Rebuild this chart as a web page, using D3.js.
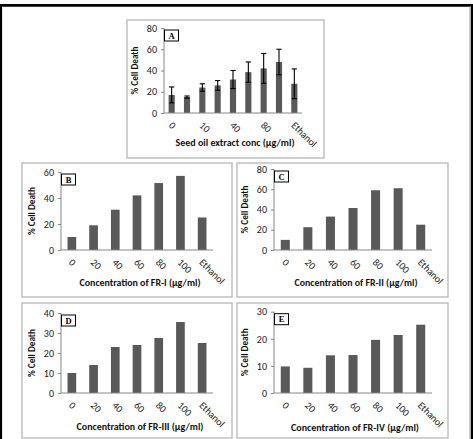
<!DOCTYPE html>
<html><head><meta charset="utf-8">
<script src="https://cdn.jsdelivr.net/npm/d3@7"></script>
<style>body{margin:0;background:#fff}svg{display:block}</style>
</head><body>
<svg id="c" width="473" height="439"></svg>
<script>
// ---- data ----
const catsA = ["0","5","10","20","40","60","80","100","Ethanol"];
const shownA = ["0","10","40","80","Ethanol"];
const valsA = [17, 15, 24, 26, 31.5, 38.5, 42, 48, 27.5];
const errA  = [7.5, 1, 3.5, 4.5, 8.5, 9.5, 14, 12, 14];
const catsFR = ["0","20","40","60","80","100","Ethanol"];
const valsB = [10, 19, 31, 42, 51.5, 57, 25];
const valsC = [10, 22.5, 33, 41.5, 59, 61, 25];
const valsD = [10, 14, 23, 24, 27.5, 35.5, 25];
const valsE = [9.8, 9.3, 13.9, 14, 19.6, 21.4, 25.2];
const ticksA = [0,20,40,60,80];
const ticksB = [0,20,40,60];
const ticksC = [0,20,40,60,80];
const ticksD = [0,10,20,30,40];
const ticksE = [0,10,20,30];
const titlesX = ["Seed oil extract conc (µg/ml)","Concentration of FR-I (µg/ml)","Concentration of FR-II (µg/ml)","Concentration of FR-III (µg/ml)","Concentration of FR-IV (µg/ml)"];
const yTitle = "% Cell Death";
const letters = ["A","B","C","D","E"];

// ---- layout ----
const panels = [
  {box:[127,20,324,158], x:[164,302], y:[113,28], cats:catsA, shown:shownA, vals:valsA, err:errA, ticks:ticksA, max:80, tx:235, ty:145.5, tl:119, yx:138},
  {box:[22,163,232,297], x:[61,213], y:[250,172], cats:catsFR, shown:catsFR, vals:valsB, ticks:ticksB, max:60, tx:140, ty:285.5, tl:121, yx:35},
  {box:[237,163,448,297], x:[274,432], y:[250,169], cats:catsFR, shown:catsFR, vals:valsC, ticks:ticksC, max:80, tx:356, ty:286, tl:123, yx:248},
  {box:[22,303,232,438], x:[61,213], y:[393,313], cats:catsFR, shown:catsFR, vals:valsD, ticks:ticksD, max:40, tx:140, ty:430, tl:127, yx:35},
  {box:[237,303,448,438], x:[274,432], y:[393,311.7], cats:catsFR, shown:catsFR, vals:valsE, ticks:ticksE, max:30, tx:355, ty:431, tl:128, yx:248}
];

const svg = d3.select("#c");
const FONT = "Carlito, Lato, 'Open Sans', sans-serif";

// outer frame
svg.append("line").attr("x1",0).attr("x2",473).attr("y1",5.3).attr("y2",5.3).attr("stroke","#000").attr("stroke-width",2.8);
svg.append("line").attr("x1",1).attr("x2",1).attr("y1",4).attr("y2",439).attr("stroke","#000").attr("stroke-width",2.2);
svg.append("line").attr("x1",472).attr("x2",472).attr("y1",4).attr("y2",439).attr("stroke","#000").attr("stroke-width",2.4);
svg.append("line").attr("x1",470).attr("x2",470).attr("y1",6).attr("y2",439).attr("stroke","#999").attr("stroke-width",1);

panels.forEach((p,i)=>{
  const g = svg.append("g");
  g.append("rect").attr("x",p.box[0]).attr("y",p.box[1]).attr("width",p.box[2]-p.box[0]).attr("height",p.box[3]-p.box[1])
    .attr("fill","#fff").attr("stroke","#bdbdbd").attr("stroke-width",1.4);
  const x = d3.scaleBand().domain(p.cats).range(p.x).paddingInner(0.6).paddingOuter(0.3);
  const y = d3.scaleLinear().domain([0,p.max]).range(p.y);

  // y axis
  const ya = g.append("g").attr("transform",`translate(${p.x[0]},0)`)
    .call(d3.axisLeft(y).tickValues(p.ticks).tickSize(3).tickPadding(4).tickFormat(d3.format("d")));
  ya.select(".domain").attr("stroke","#888").attr("d",`M0,${p.y[0]}V${p.y[1]}`);
  ya.selectAll(".tick line").attr("stroke","#888");
  ya.selectAll("text").attr("font-family",FONT).attr("font-size",10).attr("fill","#222");

  // bars
  g.selectAll(".bar").data(p.vals).enter().append("rect")
    .attr("x",(d,j)=>x(p.cats[j])).attr("width",x.bandwidth())
    .attr("y",d=>y(d)).attr("height",d=>y(0)-y(d)).attr("fill","#595959");

  // error bars
  if(p.err){
    p.vals.forEach((v,j)=>{
      const cx = x(p.cats[j]) + x.bandwidth()/2;
      const e = p.err[j];
      g.append("line").attr("x1",cx).attr("x2",cx).attr("y1",y(v+e)).attr("y2",y(v-e)).attr("stroke","#000").attr("stroke-width",1.1);
      [v+e, v-e].forEach(t=>g.append("line").attr("x1",cx-2.6).attr("x2",cx+2.6).attr("y1",y(t)).attr("y2",y(t)).attr("stroke","#000").attr("stroke-width",1.1));
    });
  }

  // x axis
  const xa = g.append("g").attr("transform",`translate(0,${p.y[0]})`)
    .call(d3.axisBottom(x).tickValues(p.shown).tickSize(0).tickFormat(""));
  xa.select(".domain").attr("stroke","#888").attr("d",`M${p.x[0]},0H${p.x[1]}`);
  p.shown.forEach(c=>{
    const cx = x(c) + x.bandwidth()/2;
    g.append("text").text(c)
      .attr("transform",`translate(${cx-3.5},${p.y[0]+13})rotate(45)`)
      .attr("font-family",FONT).attr("font-size",10).attr("fill","#222");
  });

  // titles
  g.append("text").text(titlesX[i]).attr("x",p.tx).attr("y",p.ty).attr("text-anchor","middle")
    .attr("font-family",FONT).attr("font-weight","bold").attr("font-size",10.5).attr("fill","#111")
    .attr("textLength",p.tl).attr("lengthAdjust","spacingAndGlyphs");
  const ym = (p.y[0]+p.y[1])/2;
  g.append("text").text(yTitle).attr("transform",`translate(${p.yx},${ym})rotate(-90)`).attr("text-anchor","middle")
    .attr("font-family",FONT).attr("font-weight","bold").attr("font-size",10.5).attr("fill","#111")
    .attr("textLength",48).attr("lengthAdjust","spacingAndGlyphs");

  // letter box
  const bx = p.x[0]+0.5, by = p.y[1]+2;
  g.append("rect").attr("x",bx).attr("y",by).attr("width",14).attr("height",11).attr("fill","#fff").attr("stroke","#000").attr("stroke-width",1);
  g.append("text").text(letters[i]).attr("x",bx+7).attr("y",by+8.5).attr("text-anchor","middle")
    .attr("font-family","'Liberation Serif', 'DejaVu Serif', serif").attr("font-weight","bold").attr("font-size",8.5).attr("fill","#000");
});
</script>
</body></html>
